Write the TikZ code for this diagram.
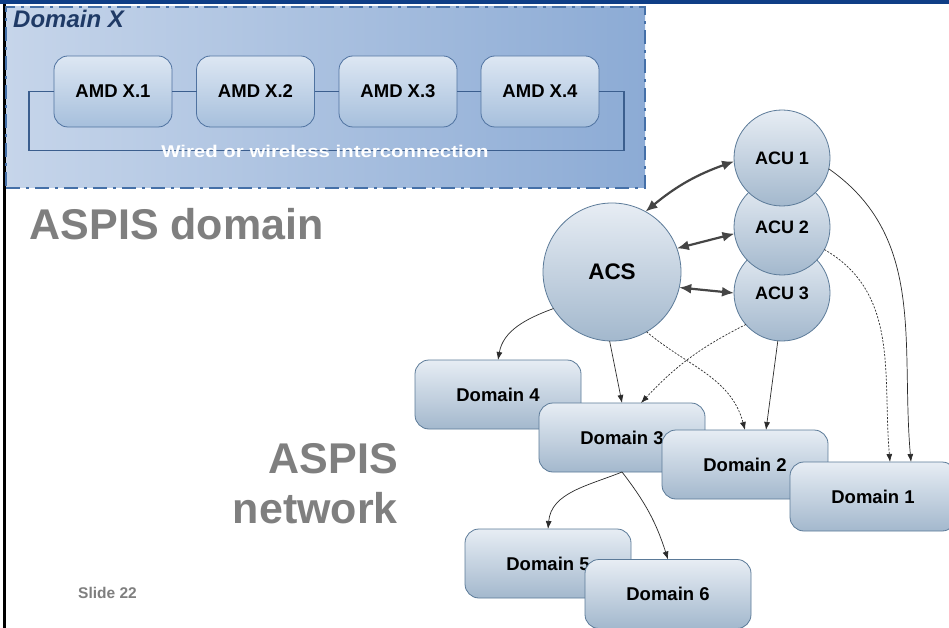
\documentclass[tikz,border=0pt]{standalone}
\usepackage{fontspec}
\usepackage{graphicx}
\setmainfont{Liberation Sans}
\usetikzlibrary{arrows.meta,calc}
\definecolor{topband}{HTML}{0F3E86}
\definecolor{dxleft}{HTML}{C6D5EA}
\definecolor{dxright}{HTML}{8CABD5}
\definecolor{dxborder}{HTML}{4570A8}
\definecolor{dxtext}{HTML}{1F3A66}
\definecolor{amdtop}{HTML}{DDE7F3}
\definecolor{amdbot}{HTML}{A6BFDC}
\definecolor{amdborder}{HTML}{4F72A0}
\definecolor{linkc}{HTML}{3B5E8E}
\definecolor{ndtop}{HTML}{E7EDF4}
\definecolor{ndbot}{HTML}{A3B8CD}
\definecolor{ndborder}{HTML}{5B7A98}
\definecolor{arrc}{HTML}{2B2B2B}
\definecolor{biarrc}{HTML}{454545}
\definecolor{titlegray}{HTML}{7F7F7F}
\begin{document}
\begin{tikzpicture}[x=1pt,y=1pt,
  domainx/.style={draw=dxborder, line width=2.4pt, dash pattern=on 14pt off 6pt on 3pt off 6pt,
    left color=dxleft, right color=dxright, minimum width=639pt, minimum height=181pt,
    inner sep=0pt, outer sep=0pt},
  amdbox/.style={draw=amdborder, line width=0.8pt, rounded corners=14pt,
    top color=amdtop, bottom color=amdbot, minimum width=118pt, minimum height=71pt,
    inner sep=0pt, outer sep=0pt, font=\fontsize{18.5}{21}\selectfont\bfseries},
  domainbox/.style={draw=ndborder, line width=0.8pt, rounded corners=14pt,
    top color=ndtop, bottom color=ndbot, minimum width=166pt, minimum height=69pt,
    inner sep=0pt, outer sep=0pt, font=\fontsize{18.5}{21}\selectfont\bfseries},
  acsnode/.style={circle, draw=ndborder, line width=0.8pt,
    top color=ndtop, bottom color=ndbot, minimum size=138pt, inner sep=0pt, outer sep=0pt,
    font=\fontsize{22.5}{25}\selectfont\bfseries},
  acunode/.style={circle, draw=ndborder, line width=0.8pt,
    top color=ndtop, bottom color=ndbot, minimum size=96pt, inner sep=0pt, outer sep=0pt,
    font=\fontsize{18}{21}\selectfont\bfseries},
  link/.style={draw=linkc, line width=1.6pt},
  thinarrow/.style={draw=arrc, line width=0.7pt, -{Latex[length=8pt,width=6pt]}},
  dasharrow/.style={thinarrow, dash pattern=on 2pt off 1.5pt},
  biarrow/.style={draw=biarrc, line width=2.2pt,
    {Latex[length=12pt,width=10pt]}-{Latex[length=12pt,width=10pt]}},
  bigtitle/.style={font=\fontsize{43}{48}\selectfont\bfseries, inner sep=0pt, text=titlegray},
]
\useasboundingbox (0,0) rectangle (949,-628);
\clip (0,0) rectangle (949,-628);
\fill[white] (0,0) rectangle (949,-628);
% top band and left border
\fill[topband] (0,0) rectangle (949,-4.5);
\fill[black] (3,-4.5) rectangle (5.5,-628);

% Domain X
\node[domainx] (DX) at (325.5,-97.5) {};
\node[anchor=base west, inner sep=0pt, text=dxtext, font=\fontsize{24}{27}\selectfont\bfseries\itshape] (DXT) at (13,-28) {Domain X};

\node[amdbox] (A1) at (113,-91.5) {AMD X.1};
\node[amdbox] (A2) at (255.5,-91.5) {AMD X.2};
\node[amdbox] (A3) at (398,-91.5) {AMD X.3};
\node[amdbox] (A4) at (540,-91.5) {AMD X.4};
\coordinate (L1) at (29,-91.5);
\coordinate (L2) at (29,-150.5);
\coordinate (L3) at (624,-150.5);
\coordinate (L4) at (624,-91.5);
\draw[link] (A1.west) -- (L1) -- (L2) -- (L3) -- (L4) -- (A4.east);
\draw[link] (A1.east) -- (A2.west);
\draw[link] (A2.east) -- (A3.west);
\draw[link] (A3.east) -- (A4.west);
\node[text=white, font=\fontsize{17}{20}\selectfont\bfseries, inner sep=0pt] (WI) at (325,-151) {\scalebox{1.2}[1]{Wired or wireless interconnection}};

% big gray titles
\node[bigtitle, anchor=base west] (T1) at (29.5,-240) {ASPIS domain};
\node[bigtitle, anchor=base east] (T2) at (398,-473) {ASPIS};
\node[bigtitle, anchor=base east] (T3) at (398,-523) {network};
\node[anchor=base west, inner sep=0pt, text=titlegray, font=\fontsize{15.5}{18}\selectfont\bfseries] (SL) at (78,-598) {Slide 22};

% domain boxes
\node[domainbox] (D4) at (498,-394.5) {Domain 4};
\node[domainbox] (D3) at (622,-437.5) {Domain 3};
\node[domainbox] (D2) at (745,-464.5) {Domain 2};
\node[domainbox] (D1) at (873,-496.5) {Domain 1};
\node[domainbox] (D5) at (548,-563.5) {Domain 5};
\node[domainbox] (D6) at (668,-594) {Domain 6};

% circles
\node[acsnode] (ACS) at (612,-272) {ACS};
\node[acunode] (U3) at (782,-293) {ACU 3};
\node[acunode] (U2) at (782,-227) {ACU 2};
\node[acunode] (U1) at (782,-158) {ACU 1};

% bidirectional arrows
\draw[biarrow] (ACS.61) to[bend left=10] (U1.184);
\draw[biarrow] (ACS.20) -- (U2.188);
\draw[biarrow] (ACS.347) -- (U3.180);

% thin arrows
\draw[thinarrow] (ACS.212) to[out=200,in=80] (D4.north);
\draw[thinarrow] (ACS.268) -- (D3.north);
\draw[dasharrow] (ACS.300) to[out=-40,in=105] (D2.north);
\draw[dasharrow] (U3.221) to[bend right=10] ($(D3.north)+(19,0)$);
\draw[thinarrow] (U3.265) -- ($(D2.north)+(21,0)$);
\draw[dasharrow] (U2.-28) to[out=-30,in=95] ($(D1.north)+(17,0)$);
\draw[thinarrow] (U1.-13) to[out=-35,in=95] ($(D1.north)+(38,0)$);
\draw[thinarrow] (D3.south) to[out=202,in=85] (D5.north);
\draw[thinarrow] (D3.south) to[bend left=10] (D6.north);
\end{tikzpicture}
\end{document}
